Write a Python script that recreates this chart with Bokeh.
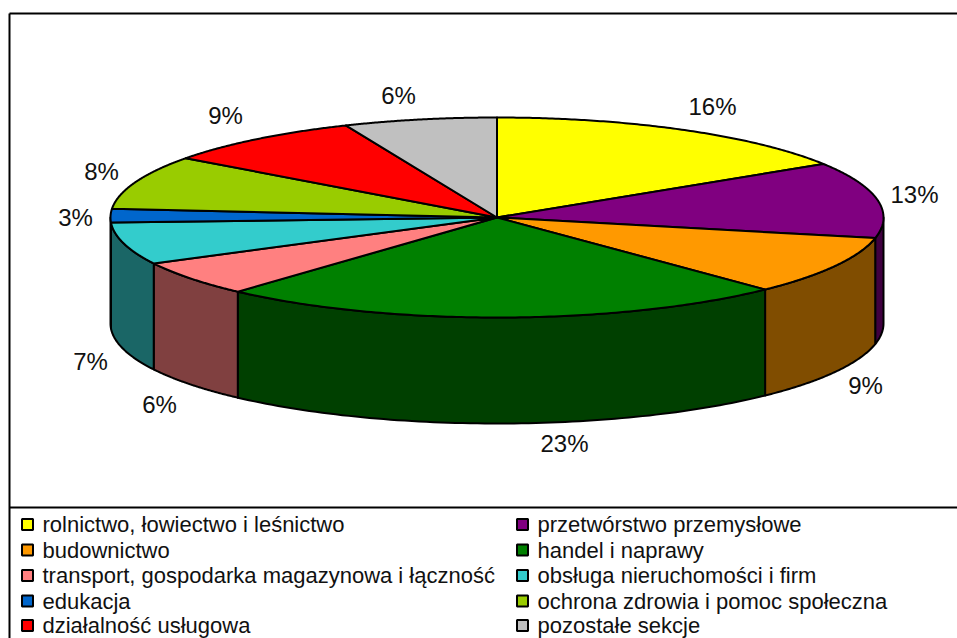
import numpy as np
from bokeh.plotting import figure
from bokeh.embed import file_html
from bokeh.resources import INLINE
from bokeh.core.properties import value
from bokeh.models import Range1d

categories = ["rolnictwo, łowiectwo i leśnictwo", "przetwórstwo przemysłowe", "budownictwo",
              "handel i naprawy", "transport, gospodarka magazynowa i łączność",
              "obsługa nieruchomości i firm", "edukacja", "ochrona zdrowia i pomoc społeczna",
              "działalność usługowa", "pozostałe sekcje"]
shares = [16.0, 12.3, 9.5, 23.9, 5.7, 6.8, 2.2, 8.7, 8.5, 6.4]
percent_labels = ["16%", "13%", "9%", "23%", "6%", "7%", "3%", "8%", "9%", "6%"]
top_colors = ["#FFFF00", "#800080", "#FF9900", "#008000", "#FF8080",
              "#33CCCC", "#0066CC", "#99CC00", "#FF0000", "#C0C0C0"]
side_colors = ["#808000", "#400040", "#804D00", "#004000", "#804040",
               "#1A6666", "#003366", "#4D6600", "#800000", "#606060"]

# layout (picture pixels)
W, H = 957, 638
CX, CY, RX, RY, DEPTH = 496.5, 217, 386.5, 100, 106
label_x = [712, 914, 865, 564, 159, 90, 75, 101, 225, 398]
label_y = [105.5, 193.5, 384.5, 442.5, 403.5, 360.5, 216.5, 170.5, 114.5, 94.5]
FS_LABEL, FS_LEGEND = "24px", "22px"

p = figure(width=W, height=H, output_backend="svg", toolbar_location=None,
           x_range=Range1d(0, W), y_range=Range1d(H, 0),
           min_border=0, outline_line_color=None)
p.axis.visible = False
p.grid.visible = False
p.background_fill_color = "white"

def px(t):
    return CX + RX * np.sin(t)
def py(t):
    return CY - RY * np.cos(t)

edges = np.cumsum([0] + shares) / sum(shares) * 2 * np.pi

# side walls: only the front half of the rim (pi/2 .. 3pi/2) is visible
for i in range(len(shares)):
    a, b = max(edges[i], np.pi / 2), min(edges[i + 1], 3 * np.pi / 2)
    if b <= a:
        continue
    t = np.linspace(a, b, 80)
    xs = np.r_[px(t), px(t[::-1])]
    ys = np.r_[py(t), py(t[::-1]) + DEPTH]
    p.patch(xs, ys, fill_color=side_colors[i], line_color="black", line_width=2, line_join="round")

# top wedges
for i in range(len(shares)):
    t = np.linspace(edges[i], edges[i + 1], 120)
    xs = np.r_[CX, px(t)]
    ys = np.r_[CY, py(t)]
    p.patch(xs, ys, fill_color=top_colors[i], line_color="black", line_width=2, line_join="round")

# percentage labels
p.text(label_x, label_y, text=percent_labels, text_font=value("Liberation Sans"),
       text_font_size=FS_LABEL, text_color="#111111", text_align="center", text_baseline="middle")

# frame (runs off the picture on the right and bottom) + legend divider
p.multi_line([[9, 9], [9, W], [9, W]], [[H, 13], [13, 13], [507, 507]],
             line_color="black", line_width=2)

# legend: two columns, filled row by row
rows_y = [524, 549.5, 575, 600.5, 625]
col_sq = [27, 522]
col_tx = [42, 537]
lx = [col_sq[i % 2] for i in range(10)]
ly = [rows_y[i // 2] for i in range(10)]
tx = [col_tx[i % 2] for i in range(10)]
p.scatter(lx, ly, marker="square", size=11, fill_color=top_colors, line_color="black", line_width=2)
p.text(tx, ly, text=categories, text_font=value("Liberation Sans"), text_font_size=FS_LEGEND,
       text_color="#111111", text_align="left", text_baseline="middle")

open("out.html", "w").write(file_html(p, INLINE))
